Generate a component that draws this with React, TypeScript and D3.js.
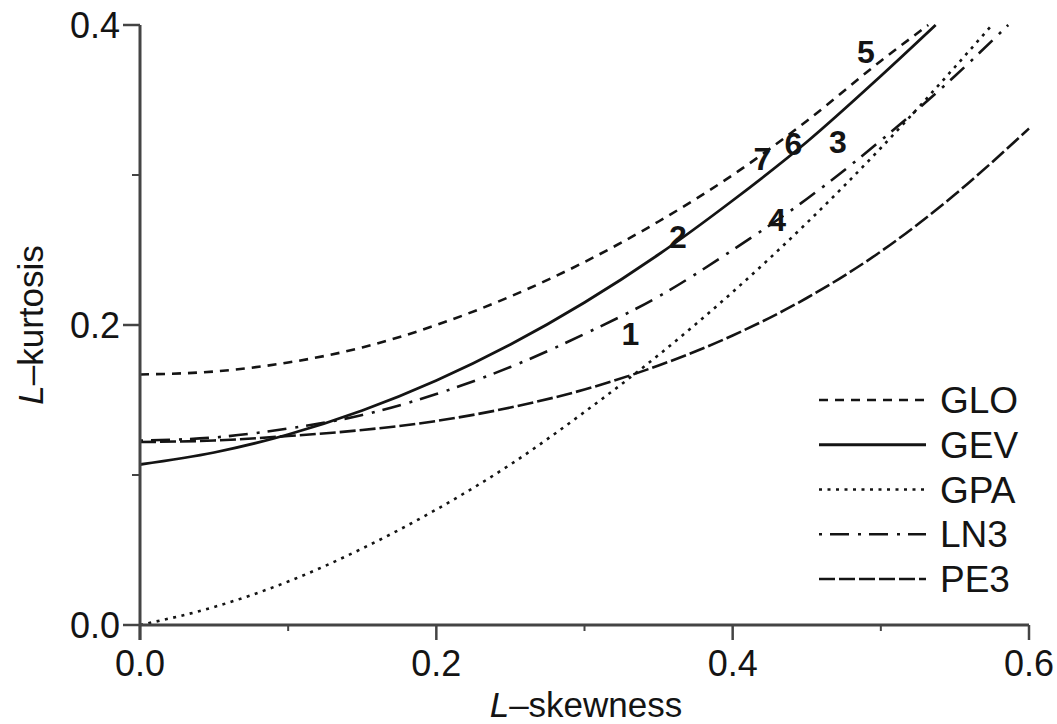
import React from "react";
import * as d3 from "d3";

const xTicksMajor = [0, 0.2, 0.4, 0.6];
const xTicksMinor = [0.1, 0.3, 0.5];
const yTicksMajor = [0, 0.2, 0.4];
const yTicksMinor = [0.1, 0.3];

const gloData: [number, number][] = [[0,0.167],[0.05,0.169],[0.1,0.175],[0.15,0.185],[0.2,0.2],[0.25,0.219],[0.3,0.242],[0.35,0.269],[0.4,0.3],[0.45,0.336],[0.5,0.376],[0.532,0.4]];
const gevData: [number, number][] = [[0,0.107],[0.05,0.115],[0.1,0.127],[0.15,0.143],[0.2,0.163],[0.25,0.187],[0.3,0.215],[0.35,0.247],[0.4,0.283],[0.45,0.322],[0.5,0.366],[0.537,0.4]];
const gpaData: [number, number][] = [[0,0],[0.05,0.012],[0.1,0.029],[0.15,0.051],[0.2,0.077],[0.25,0.107],[0.3,0.142],[0.35,0.18],[0.4,0.222],[0.45,0.268],[0.5,0.318],[0.55,0.372],[0.575,0.4]];
const ln3Data: [number, number][] = [[0,0.123],[0.05,0.125],[0.1,0.131],[0.15,0.14],[0.2,0.154],[0.25,0.172],[0.3,0.194],[0.35,0.219],[0.4,0.25],[0.45,0.284],[0.5,0.323],[0.55,0.366],[0.586,0.4]];
const pe3Data: [number, number][] = [[0,0.122],[0.05,0.123],[0.1,0.126],[0.15,0.13],[0.2,0.136],[0.25,0.145],[0.3,0.157],[0.35,0.173],[0.4,0.193],[0.45,0.218],[0.5,0.249],[0.55,0.287],[0.6,0.331]];

const seriesNames = ["GLO", "GEV", "GPA", "LN3", "PE3"];
const seriesData = [gloData, gevData, gpaData, ln3Data, pe3Data];

const pointLabels = ["1", "2", "3", "4", "5", "6", "7"];
const pointSkew = [0.331, 0.363, 0.471, 0.43, 0.49, 0.441, 0.42];
const pointKurt = [0.194, 0.259, 0.322, 0.27, 0.382, 0.321, 0.311];

const dashes: Record<string, string | undefined> = {
  GLO: "9,7",
  GEV: undefined,
  GPA: "3,5.5",
  LN3: "3,8,19,9",
  PE3: "16,4",
};

const FONT = "'Liberation Sans', Arial, Helvetica, sans-serif";
const INK = "#141414";
const AXIS = "#444";

export default function App() {
  const x = d3.scaleLinear().domain([0, 0.6]).range([140, 1029]);
  const y = d3.scaleLinear().domain([0, 0.4]).range([625, 25]);
  const line = d3
    .line<[number, number]>()
    .x((d) => x(d[0]))
    .y((d) => y(d[1]))
    .curve(d3.curveMonotoneX);

  const legendY = d3.scalePoint<string>().domain(seriesNames).range([400, 579]);
  const sw = (name: string) => (name === "GEV" ? 2.8 : name === "GPA" ? 2.6 : 2.6);

  return (
    <svg
      width={1057}
      height={724}
      style={{ position: "absolute", left: 0, top: 0, background: "#fff" }}
      fontFamily={FONT}
    >
      {/* curves */}
      {seriesNames.map((name, i) => (
        <path
          key={name}
          d={line(seriesData[i]) || ""}
          fill="none"
          stroke={INK}
          strokeWidth={sw(name)}
          strokeDasharray={dashes[name]}
        />
      ))}

      {/* axes */}
      <line x1={x(0)} x2={x(0.6)} y1={y(0)} y2={y(0)} stroke={AXIS} strokeWidth={3} />
      <line x1={x(0)} x2={x(0)} y1={y(0) + 15} y2={y(0.4)} stroke={AXIS} strokeWidth={3} />
      {xTicksMajor.map((t) => (
        <g key={"xt" + t}>
          <line x1={x(t)} x2={x(t)} y1={y(0)} y2={y(0) + 15} stroke={AXIS} strokeWidth={2.5} />
          <text x={x(t)} y={676} textAnchor="middle" fontSize={36} fill={INK}>
            {t.toFixed(1)}
          </text>
        </g>
      ))}
      {xTicksMinor.map((t) => (
        <line key={"xm" + t} x1={x(t)} x2={x(t)} y1={y(0)} y2={y(0) + 6} stroke={AXIS} strokeWidth={2} />
      ))}
      {yTicksMajor.map((t) => (
        <g key={"yt" + t}>
          <line x1={x(0) - 17} x2={x(0)} y1={y(t)} y2={y(t)} stroke={AXIS} strokeWidth={2.5} />
          <text x={120} y={y(t)} textAnchor="end" dominantBaseline="central" fontSize={36} fill={INK}>
            {t.toFixed(1)}
          </text>
        </g>
      ))}
      {yTicksMinor.map((t) => (
        <line key={"ym" + t} x1={x(0) - 8} x2={x(0)} y1={y(t)} y2={y(t)} stroke={AXIS} strokeWidth={2} />
      ))}

      {/* axis titles */}
      <text x={586} y={717} textAnchor="middle" fontSize={35} fill={INK}>
        <tspan fontStyle="italic">L</tspan>–skewness
      </text>
      <text
        transform={`translate(43,325) rotate(-90)`}
        textAnchor="middle"
        fontSize={35}
        fill={INK}
      >
        <tspan fontStyle="italic">L</tspan>–kurtosis
      </text>

      {/* point labels */}
      {pointLabels.map((lab, i) => (
        <text
          key={"p" + lab}
          x={x(pointSkew[i])}
          y={y(pointKurt[i])}
          textAnchor="middle"
          dominantBaseline="central"
          fontSize={32}
          fontWeight="bold"
          fill={INK}
        >
          {lab}
        </text>
      ))}

      {/* legend */}
      {seriesNames.map((name) => (
        <g key={"lg" + name}>
          <line
            x1={819}
            x2={926}
            y1={legendY(name)}
            y2={legendY(name)}
            stroke={INK}
            strokeWidth={sw(name)}
            strokeDasharray={dashes[name]}
          />
          <text x={940} y={(legendY(name) || 0) + 13} fontSize={37} fill={INK}>
            {name}
          </text>
        </g>
      ))}
    </svg>
  );
}
